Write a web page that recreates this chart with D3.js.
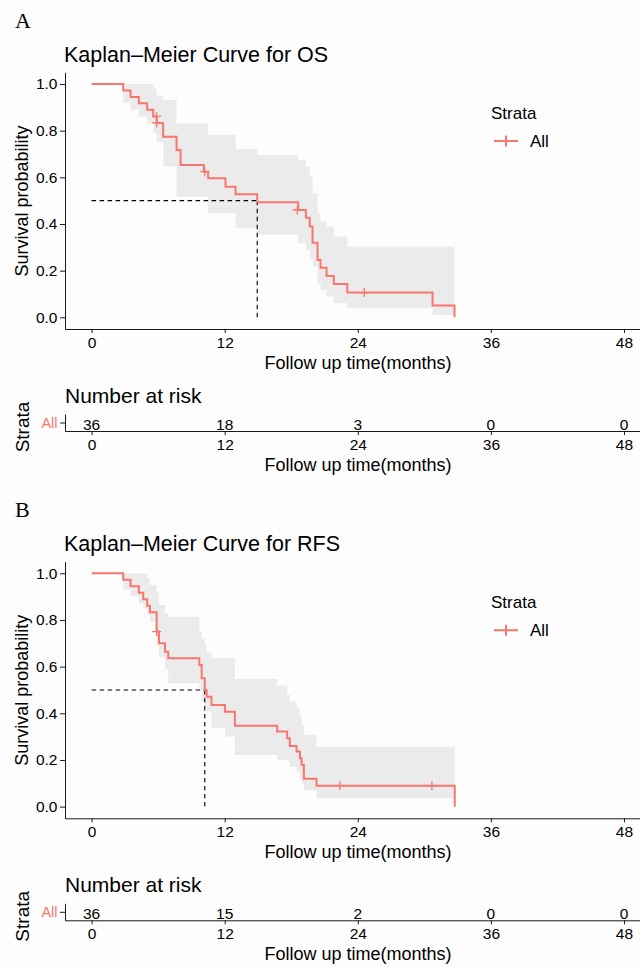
<!DOCTYPE html>
<html><head><meta charset="utf-8">
<script src="https://cdn.jsdelivr.net/npm/d3@7"></script>
<style>
body{margin:0;background:#fdfdfd}
svg{display:block}
text{font-family:"Liberation Sans",Arial,Helvetica,sans-serif}
</style>
</head><body><svg id="c" width="640" height="967"></svg>
<script>
// ---------- data ----------
const xTicks = [0, 12, 24, 36, 48];
const yTicks = [0, 0.2, 0.4, 0.6, 0.8, 1.0];
const strata = ["All"];

// OS
const osTime  = [0, 2.85, 3.51, 4.26, 5.01, 5.56, 5.86, 6.45, 7.66, 8.02, 10.12, 10.51, 12.07, 12.98, 14.93, 18.63, 19.32, 19.67, 19.92, 20.37, 20.64, 21.18, 21.84, 23.05, 30.74];
const osSurv  = [1, 0.972, 0.944, 0.917, 0.889, 0.861, 0.833, 0.774, 0.717, 0.653, 0.624, 0.596, 0.560, 0.527, 0.493, 0.460, 0.427, 0.389, 0.320, 0.246, 0.213, 0.177, 0.143, 0.106, 0.051];
const osUpper = [1, 1, 1, 1, 1, 0.98, 0.95, 0.931, 0.831, 0.831, 0.831, 0.781, 0.781, 0.721, 0.696, 0.674, 0.646, 0.603, 0.531, 0.446, 0.41, 0.389, 0.346, 0.303, 0.303];
const osLower = [1, 0.92, 0.89, 0.86, 0.83, 0.79, 0.75, 0.646, 0.517, 0.517, 0.517, 0.446, 0.446, 0.382, 0.354, 0.317, 0.289, 0.25, 0.217, 0.146, 0.117, 0.089, 0.06, 0.039, 0.010];
const osEnd = 32.72;
const osMedian = 14.93;
const osCensorTime = [5.86, 5.86, 10.2, 18.55, 24.58];
const osCensorSurv = [0.861, 0.833, 0.624, 0.460, 0.106];
const osRisk = [36, 18, 3, 0, 0];

// RFS
const rfsTime  = [0, 2.85, 3.51, 4.26, 4.65, 5.01, 5.26, 5.86, 6.07, 6.61, 6.91, 9.71, 9.92, 10.2, 10.37, 10.81, 12.02, 12.92, 16.73, 17.63, 17.87, 18.48, 18.78, 18.93, 19.14, 20.28];
const rfsSurv  = [1, 0.972, 0.944, 0.917, 0.889, 0.861, 0.833, 0.75, 0.70, 0.664, 0.636, 0.607, 0.55, 0.5, 0.471, 0.436, 0.407, 0.347, 0.322, 0.293, 0.260, 0.236, 0.207, 0.179, 0.119, 0.090];
const rfsUpper = [1, 1, 1, 1, 1, 0.979, 0.95, 0.921, 0.864, 0.83, 0.814, 0.75, 0.72, 0.693, 0.66, 0.636, 0.636, 0.547, 0.519, 0.479, 0.45, 0.422, 0.393, 0.35, 0.307, 0.257];
const rfsLower = [1, 0.93, 0.90, 0.87, 0.85, 0.82, 0.79, 0.69, 0.64, 0.59, 0.529, 0.50, 0.45, 0.43, 0.407, 0.336, 0.30, 0.221, 0.200, 0.193, 0.17, 0.15, 0.12, 0.10, 0.07, 0.036];
const rfsEnd = 32.74;
const rfsMedian = 10.2;
const rfsCensorTime = [5.86, 22.38, 30.68];
const rfsCensorSurv = [0.75, 0.09, 0.09];
const rfsRisk = [36, 15, 2, 0, 0];

// ---------- drawing ----------
const RED = "#F8766D";
const svg = d3.select("#c");
svg.append("rect").attr("width",640).attr("height",967).attr("fill","#fdfdfd");

const x = d3.scaleLinear().domain([-2.4, 50.4]).range([65, 650.6]);

function styleAxis(g, size){
  g.selectAll("path.domain").attr("stroke","#000").attr("stroke-width",0.9);
  g.selectAll(".tick line").attr("stroke","#000").attr("stroke-width",0.9);
  g.selectAll(".tick text").style("font-family","Liberation Sans, Arial, sans-serif")
    .style("font-size", size + "px").style("fill","#000");
}

function panel(dy, letter, title, T, S, U, L, end, median, cT, cS, risk){
  const g = svg.append("g").attr("transform",`translate(0,${dy})`);
  const y = d3.scaleLinear().domain([-0.05, 1.05]).range([329, 72.3]);

  g.append("text").attr("x",15).attr("y",28)
    .style("font-family","Liberation Serif, Times New Roman, serif").style("font-size","22px").text(letter);
  g.append("text").attr("x",64).attr("y",62).style("font-size","21.5px").text(title);

  // band
  const bandPts = T.map((t,i)=>({t, u:U[i], l:L[i]}));
  bandPts.push({t:end, u:U[U.length-1], l:L[L.length-1]});
  g.append("path").datum(bandPts)
    .attr("d", d3.area().curve(d3.curveStepAfter).x(d=>x(d.t)).y0(d=>y(d.l)).y1(d=>y(d.u)))
    .attr("fill","#ebebeb");

  // median lines
  g.append("path").attr("d", d3.line()([[x(0),y(0.5)],[x(median),y(0.5)]]))
    .attr("stroke","#000").attr("stroke-width",1.1).attr("stroke-dasharray","4.5,3.5").attr("fill","none");
  g.append("path").attr("d", d3.line()([[x(median),y(0.5)],[x(median),y(0)]]))
    .attr("stroke","#000").attr("stroke-width",1.1).attr("stroke-dasharray","4.5,3.5").attr("fill","none");

  // curve
  const pts = T.map((t,i)=>[t,S[i]]);
  pts.push([end, 0]);
  g.append("path").datum(pts)
    .attr("d", d3.line().curve(d3.curveStepAfter).x(d=>x(d[0])).y(d=>y(d[1])))
    .attr("fill","none").attr("stroke",RED).attr("stroke-width",2);

  // censors
  cT.forEach((t,i)=>{
    const cx = x(t), cy = y(cS[i]);
    g.append("path").attr("d",`M${cx-4.5},${cy}H${cx+4.5}M${cx},${cy-4.5}V${cy+4.5}`)
      .attr("stroke",RED).attr("stroke-width",1.3);
  });

  // axes
  const ax = g.append("g").attr("transform","translate(0,329)")
    .call(d3.axisBottom(x).tickValues(xTicks).tickSize(4).tickSizeOuter(0).tickPadding(4));
  styleAxis(ax, 15.5);
  const ay = g.append("g").attr("transform","translate(65,0)")
    .call(d3.axisLeft(y).tickValues(yTicks).tickFormat(d3.format(".1f")).tickSize(5).tickSizeOuter(0).tickPadding(2.5));
  styleAxis(ay, 15.5);

  g.append("text").attr("x",358).attr("y",369).attr("text-anchor","middle").style("font-size","18px")
    .text("Follow up time(months)");
  g.append("text").attr("transform","translate(28,201) rotate(-90)").attr("text-anchor","middle")
    .style("font-size","18px").text("Survival probability");

  // legend
  g.append("text").attr("x",491).attr("y",119).style("font-size","17px").text("Strata");
  g.append("path").attr("d","M494,141H518M506,135.5V146.5").attr("stroke",RED).attr("stroke-width",2);
  g.append("text").attr("x",530).attr("y",147).style("font-size","17px").text("All");

  // risk table
  g.append("text").attr("x",65).attr("y",403).style("font-size","21px").text("Number at risk");
  const yr = d3.scalePoint().domain(strata).range([414, 431]).padding(0.5);
  const rx = g.append("g").attr("transform","translate(0,431)")
    .call(d3.axisBottom(x).tickValues(xTicks).tickSize(4).tickSizeOuter(0).tickPadding(4));
  styleAxis(rx, 15.5);
  const ry = g.append("g").attr("transform","translate(65,0)")
    .call(d3.axisLeft(yr).tickSize(5).tickSizeOuter(0).tickPadding(2.5));
  styleAxis(ry, 14.5);
  ry.selectAll(".tick text").style("fill",RED);
  g.selectAll("text.risk").data(risk).enter().append("text").attr("class","risk")
    .attr("x",(d,i)=>x(xTicks[i])).attr("y",430).attr("text-anchor","middle").style("font-size","15.5px").text(d=>d);
  g.append("text").attr("x",358).attr("y",471).attr("text-anchor","middle").style("font-size","18px")
    .text("Follow up time(months)");
  g.append("text").attr("transform","translate(29,427) rotate(-90)").attr("text-anchor","middle")
    .style("font-size","19px").text("Strata");
}

panel(0, "A", "Kaplan\u2013Meier Curve for OS", osTime, osSurv, osUpper, osLower, osEnd, osMedian, osCensorTime, osCensorSurv, osRisk);
panel(489.3, "B", "Kaplan\u2013Meier Curve for RFS", rfsTime, rfsSurv, rfsUpper, rfsLower, rfsEnd, rfsMedian, rfsCensorTime, rfsCensorSurv, rfsRisk);
</script>
</body></html>
